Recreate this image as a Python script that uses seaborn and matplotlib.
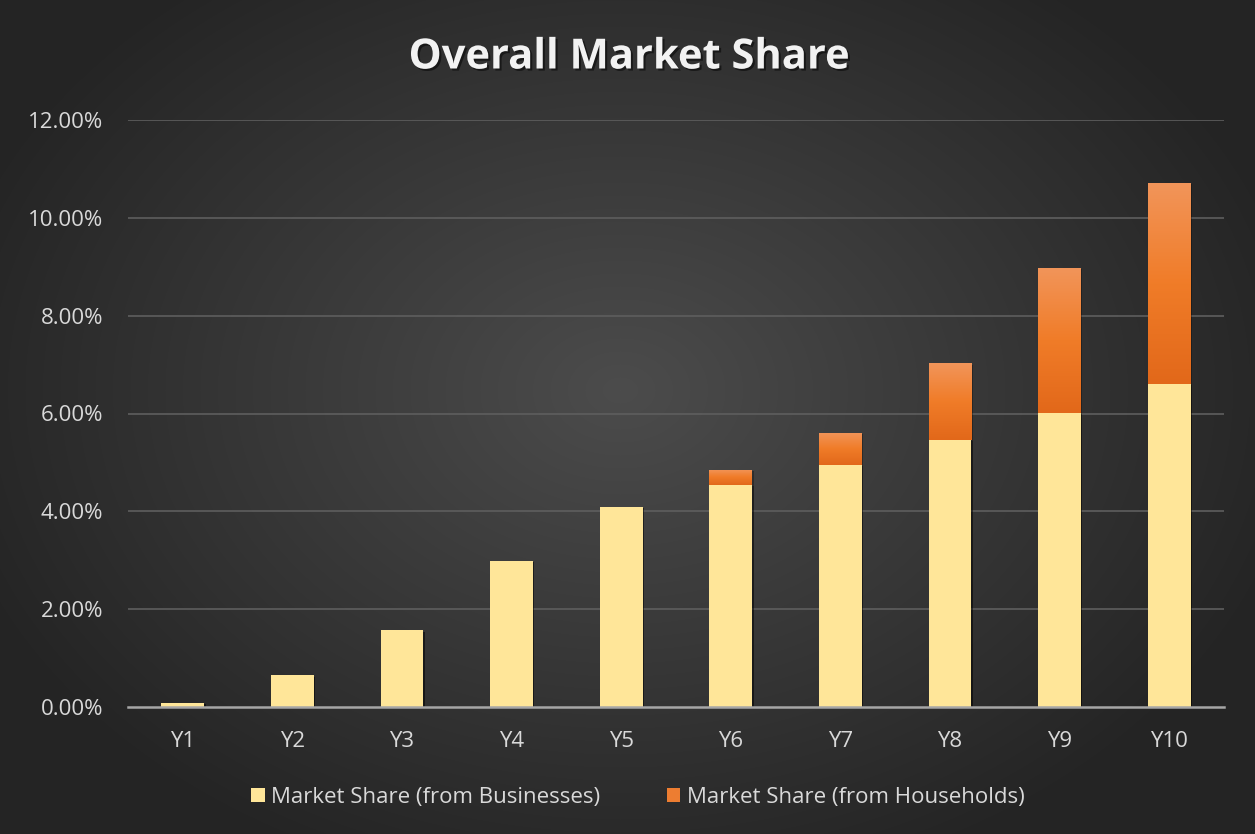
import numpy as np
import pandas as pd
import matplotlib
matplotlib.use("Agg")
import matplotlib.pyplot as plt
import matplotlib.patheffects as pe
from matplotlib.patches import Patch
import seaborn as sns

years = ["Y1", "Y2", "Y3", "Y4", "Y5", "Y6", "Y7", "Y8", "Y9", "Y10"]
businesses = [0.08, 0.65, 1.57, 2.99, 4.09, 4.54, 4.95, 5.46, 6.01, 6.61]
households = [0.0, 0.0, 0.0, 0.0, 0.0, 0.31, 0.66, 1.57, 2.97, 4.10]
y_ticks = [0, 2, 4, 6, 8, 10, 12]
title = "Overall Market Share"
series_names = ["Market Share (from Businesses)", "Market Share (from Households)"]

sns.set_theme(style="white")
plt.rcParams["font.family"] = ["Open Sans", "DejaVu Sans"]

W, H = 1255, 834
fig = plt.figure(figsize=(W / 100, H / 100), dpi=100)

# radial gradient background
bg = fig.add_axes([0, 0, 1, 1], zorder=-10)
yy, xx = np.mgrid[0:H, 0:W]
cx, cy = 620, 390
r = np.sqrt(((xx - cx) / 700.0) ** 2 + ((yy - cy) / 520.0) ** 2)
r = np.clip(r, 0, 1)
inner = np.array([0x4c, 0x4c, 0x4c]) / 255
outer = np.array([0x24, 0x24, 0x24]) / 255
img = inner[None, None, :] * (1 - r[..., None]) + outer[None, None, :] * r[..., None]
bg.imshow(img, extent=[0, W, H, 0], aspect="auto", interpolation="bilinear")
bg.set_axis_off()

ax = fig.add_axes([128 / W, 1 - 707 / H, (1224 - 128) / W, (707 - 120) / H])
ax.patch.set_alpha(0)

df = pd.DataFrame({"year": years, "bus": businesses, "hh": households})
df["total"] = df["bus"] + df["hh"]

orange = "#ED7D31"
yellow = "#FFE699"
bw = 0.39

shadow = [pe.SimplePatchShadow(offset=(1.0, -1.0), shadow_rgbFace="black", alpha=0.3), pe.Normal()]

sns.barplot(data=df, x="year", y="total", color=orange, width=bw, saturation=1,
            ax=ax, zorder=2, linewidth=0)
n_tot = len(ax.patches)
sns.barplot(data=df, x="year", y="bus", color=yellow, width=bw, saturation=1,
            ax=ax, zorder=3, linewidth=0)

# gradient on orange (household) segments
grad_cmap = matplotlib.colors.LinearSegmentedColormap.from_list(
    "og", ["#E2681A", "#F07C28", "#F2955A"])
grad = np.linspace(0, 1, 256).reshape(-1, 1)
for i, p in enumerate(ax.patches[:n_tot]):
    x0 = p.get_x()
    x1 = x0 + p.get_width()
    top = p.get_height()
    bot = df["bus"].iloc[i]
    p.set_path_effects(shadow)
    if top - bot > 0.01:
        im = ax.imshow(grad, extent=[x0, x1, bot, top], origin="lower",
                       cmap=grad_cmap, aspect="auto", zorder=2.5,
                       interpolation="bilinear")
        im.set_clip_path(p)
for p in ax.patches[n_tot:]:
    p.set_path_effects(shadow)

ax.set_xlim(-0.5, len(years) - 0.5)
ax.set_ylim(0, 12)
ax.set_yticks(y_ticks)
ax.set_yticklabels([f"{v:.2f}%" for v in y_ticks])
ax.set_xlabel("")
ax.set_ylabel("")

for v in y_ticks[1:]:
    ax.axhline(v, color="#5E5E5E", lw=1.2, zorder=1)
for s in ["top", "right", "left"]:
    ax.spines[s].set_visible(False)
ax.spines["bottom"].set_color("#A6A6A6")
ax.spines["bottom"].set_linewidth(1.8)
ax.spines["bottom"].set_zorder(4)

ax.tick_params(axis="both", length=0, colors="#D9D9D9", labelsize=16)
ax.tick_params(axis="y", pad=18)
ax.tick_params(axis="x", pad=17)

fig.text(629 / W, 1 - 58 / H, title, ha="center", va="center", fontsize=30,
         fontweight="bold", color="#F2F2F2",
         path_effects=[pe.withSimplePatchShadow(offset=(1.5, -1.5), shadow_rgbFace="black", alpha=0.5)])

handles = [Patch(facecolor=yellow, edgecolor="none"), Patch(facecolor=orange, edgecolor="none")]
leg = fig.legend(handles, series_names, loc="center", bbox_to_anchor=(638 / W, 1 - 797 / H),
                 ncol=2, frameon=False, fontsize=16, handlelength=0.6, handleheight=0.6,
                 handletextpad=0.3, columnspacing=3.0)
for t in leg.get_texts():
    t.set_color("#D9D9D9")

fig.savefig("out.png", dpi=100)
